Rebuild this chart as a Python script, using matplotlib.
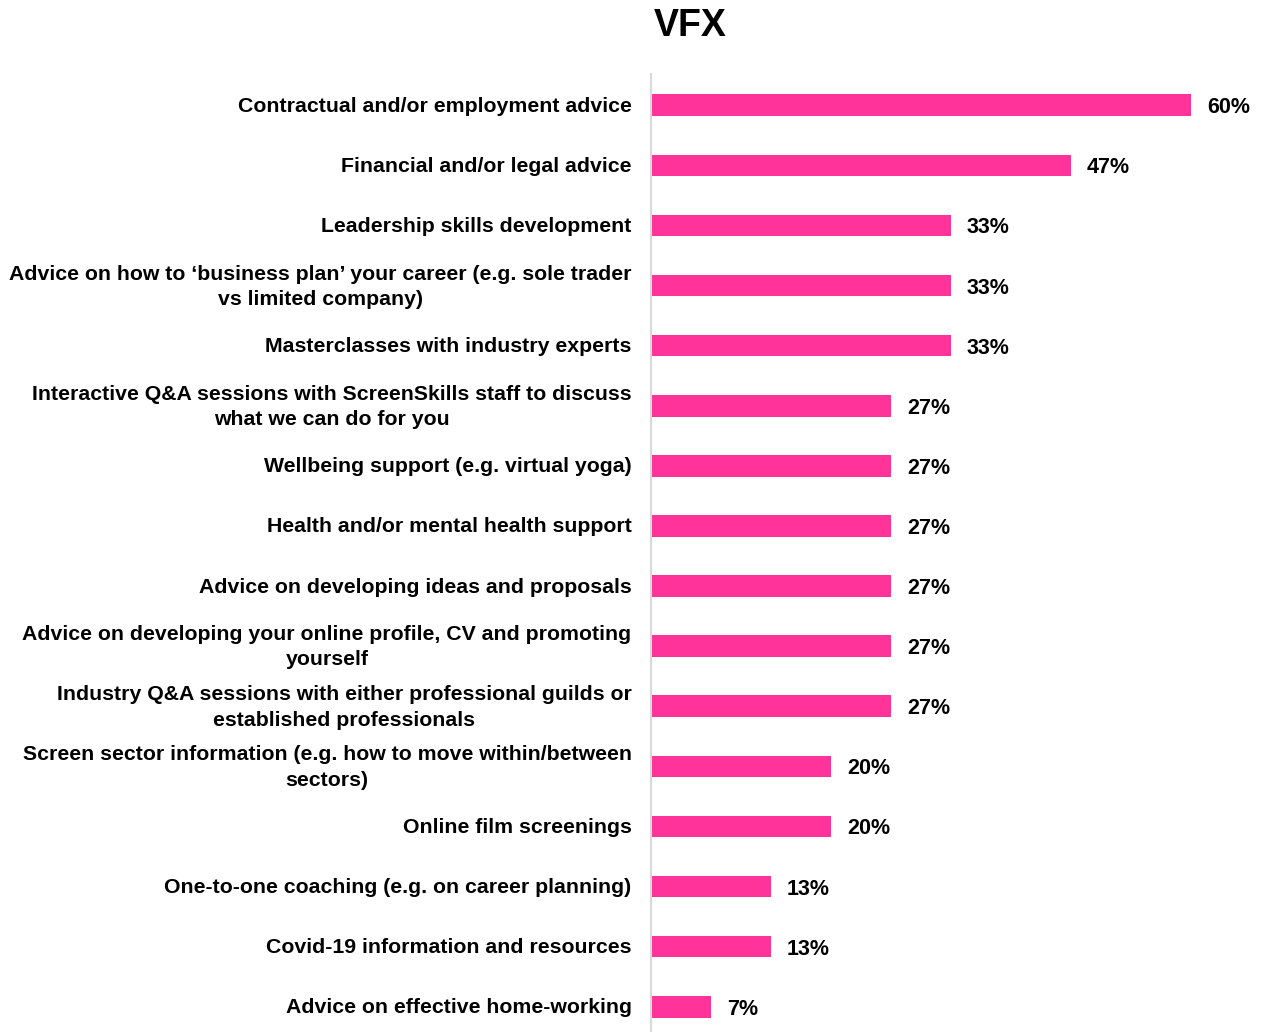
import numpy as np
import matplotlib.pyplot as plt
from matplotlib.transforms import ScaledTranslation

plt.rcParams['font.family'] = ['Liberation Sans', 'DejaVu Sans']

# --- data ---
categories = [
    'Contractual and/or employment advice',
    'Financial and/or legal advice',
    'Leadership skills development',
    'Advice on how to \u2018business plan\u2019 your career (e.g. sole trader\nvs limited company)',
    'Masterclasses with industry experts',
    'Interactive Q&A sessions with ScreenSkills staff to discuss\nwhat we can do for you',
    'Wellbeing support (e.g. virtual yoga)',
    'Health and/or mental health support',
    'Advice on developing ideas and proposals',
    'Advice on developing your online profile, CV and promoting\nyourself',
    'Industry Q&A sessions with either professional guilds or\nestablished professionals',
    'Screen sector information (e.g. how to move within/between\nsectors)',
    'Online film screenings',
    'One-to-one coaching (e.g. on career planning)',
    'Covid-19 information and resources',
    'Advice on effective home-working',
]
values = [60.0, 46.7, 33.3, 33.3, 33.3, 26.7, 26.7, 26.7, 26.7, 26.7, 26.7,
          20.0, 20.0, 13.3, 13.3, 6.7]

bar_color = '#FF3399'

# --- figure ---
fig = plt.figure(figsize=(12.63, 10.32), dpi=100)
ax = fig.add_axes([651 / 1263, 0, 1 - 651 / 1263, 1 - 74 / 1032])

y = np.arange(len(categories))
ax.barh(y, values, height=0.36, color=bar_color)

for yi, v in zip(y, values):
    ax.text(v + 1.75, yi, f'{v:.0f}%', va='center_baseline', ha='left',
            fontsize=15.5, fontweight='bold', color='black')

ax.set_xlim(0, (1263 - 651) / 9.0)
ax.set_ylim(len(categories) - 1 + 0.42, -0.52)

ax.set_yticks(y)
ax.set_yticklabels(categories, fontsize=15.3, fontweight='bold',
                   linespacing=1.42)
ax.tick_params(axis='y', length=0, pad=14)
ax.set_xticks([])

for s in ['top', 'right', 'bottom']:
    ax.spines[s].set_visible(False)
ax.spines['left'].set_color('#D9D9D9')
ax.spines['left'].set_linewidth(1.5)

fig.text(690 / 1263, 1 - 26 / 1032, 'VFX', ha='center', va='center',
         fontsize=27, fontweight='bold')

# 2行ラベルは少し上へ、1行ラベルもわずかに上へ
fig.canvas.draw()
for lbl in ax.get_yticklabels():
    lbl.set_multialignment('center')
    dy = 4 if '\n' in lbl.get_text() else 1
    lbl.set_transform(lbl.get_transform() +
                      ScaledTranslation(0, dy / 100, fig.dpi_scale_trans))

fig.savefig('out.png', dpi=100)
